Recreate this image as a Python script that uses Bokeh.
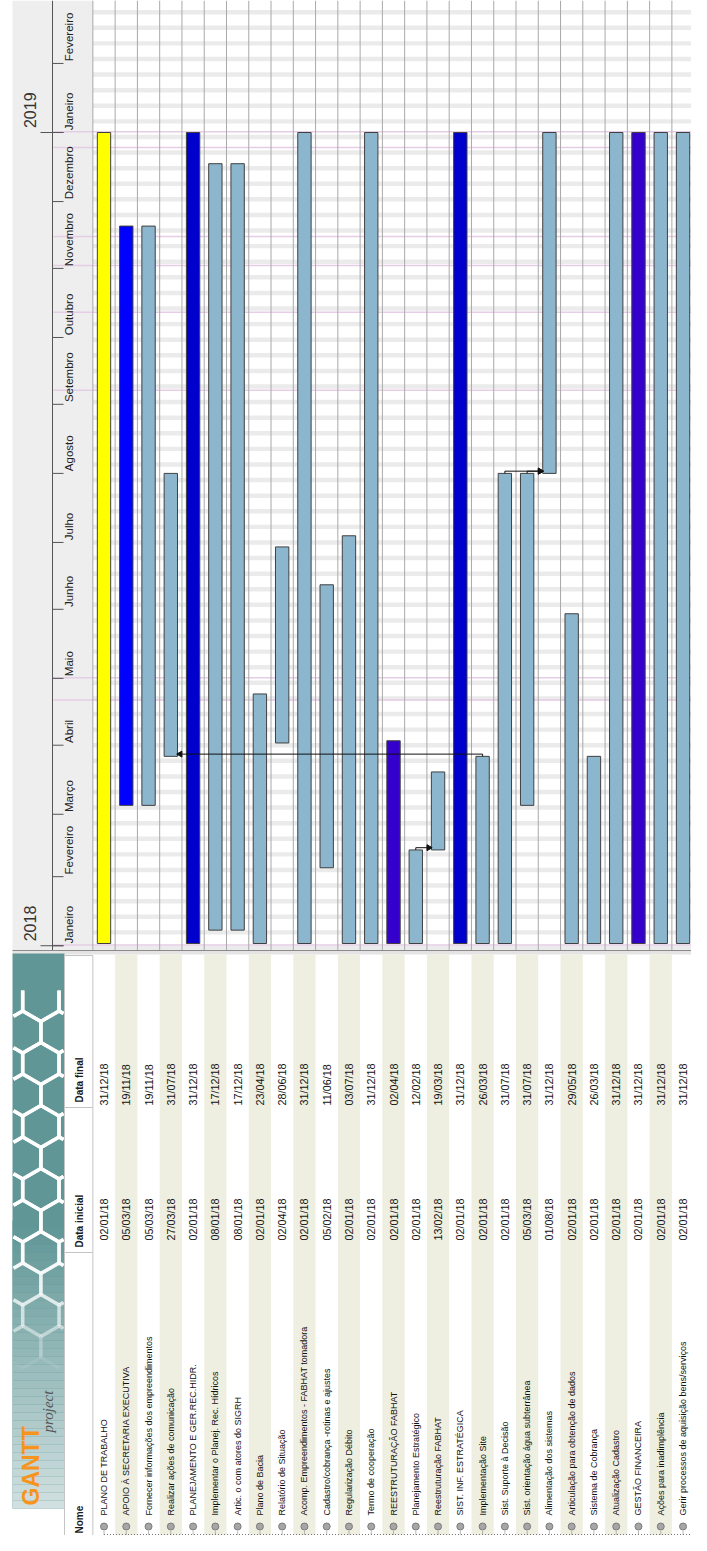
import datetime as dt
import numpy as np
from bokeh.plotting import figure
from bokeh.models import Range1d
from bokeh.core.properties import value
from bokeh.embed import file_html
from bokeh.resources import INLINE

# ---------------- data ----------------
task_names = [
    "PLANO DE TRABALHO",
    "APOIO À SECRETARIA EXECUTIVA",
    "Fornecer informações dos empreendimentos",
    "Realizar ações de comunicação",
    "PLANEJAMENTO E GER.REC.HIDR.",
    "Implementar o Planej. Rec. Hídricos",
    "Artic. o com atores do SIGRH",
    "Plano de Bacia",
    "Relatório de Situação",
    "Acomp. Empreendimentos - FABHAT tomadora",
    "Cadastro/cobrança -rotinas e ajustes",
    "Regularização Débito",
    "Termo de cooperação",
    "REESTRUTURAÇÃO FABHAT",
    "Planejamento Estratégico",
    "Reestruturação FABHAT",
    "SIST. INF. ESTRATÉGICA",
    "Implementação Site",
    "Sist. Suporte à Decisão",
    "Sist. orientação água subterrânea",
    "Alimentação dos sistemas",
    "Articulação para obtenção de dados",
    "Sistema de Cobrança",
    "Atualização Cadastro",
    "GESTÃO FINANCEIRA",
    "Ações para inadimplência",
    "Gerir processos de aquisição bens/serviços",
    "Prestação conta técnica/ adm.",
]
start_dates = [
    "02/01/18", "05/03/18", "05/03/18", "27/03/18", "02/01/18", "08/01/18", "08/01/18",
    "02/01/18", "02/04/18", "02/01/18", "05/02/18", "02/01/18", "02/01/18", "02/01/18",
    "02/01/18", "13/02/18", "02/01/18", "02/01/18", "02/01/18", "05/03/18", "01/08/18",
    "02/01/18", "02/01/18", "02/01/18", "02/01/18", "02/01/18", "02/01/18", "02/01/18",
]
end_dates = [
    "31/12/18", "19/11/18", "19/11/18", "31/07/18", "31/12/18", "17/12/18", "17/12/18",
    "23/04/18", "28/06/18", "31/12/18", "11/06/18", "03/07/18", "31/12/18", "02/04/18",
    "12/02/18", "19/03/18", "31/12/18", "26/03/18", "31/07/18", "31/07/18", "31/12/18",
    "29/05/18", "26/03/18", "31/12/18", "31/12/18", "31/12/18", "31/12/18", "31/12/18",
]
task_colors = [
    "#ffff00", "#0000ff", "#8cb6ce", "#8cb6ce", "#0000cc", "#8cb6ce", "#8cb6ce",
    "#8cb6ce", "#8cb6ce", "#8cb6ce", "#8cb6ce", "#8cb6ce", "#8cb6ce", "#3300cc",
    "#8cb6ce", "#8cb6ce", "#0000cc", "#8cb6ce", "#8cb6ce", "#8cb6ce", "#8cb6ce",
    "#8cb6ce", "#8cb6ce", "#8cb6ce", "#3300cc", "#8cb6ce", "#8cb6ce", "#8cb6ce",
]
dep_from = [14, 17, 18, 19]
dep_to = [15, 3, 20, 20]

month_names = ["Janeiro", "Fevereiro", "Março", "Abril", "Maio", "Junho", "Julho",
               "Agosto", "Setembro", "Outubro", "Novembro", "Dezembro", "Janeiro", "Fevereiro"]
month_starts = ["01/01/18", "01/02/18", "01/03/18", "01/04/18", "01/05/18", "01/06/18",
                "01/07/18", "01/08/18", "01/09/18", "01/10/18", "01/11/18", "01/12/18",
                "01/01/19", "01/02/19"]
year_labels = ["2018", "2019"]
year_starts = ["01/01/18", "01/01/19"]
holidays = ["01/01/18", "21/04/18", "01/05/18", "07/09/18", "12/10/18", "02/11/18",
            "15/11/18", "25/12/18", "01/01/19"]

header_labels = ["Nome", "Data inicial", "Data final"]

# ---------------- layout constants ----------------
W, H = 691, 1535
X0, PITCH = 92.37, 22.27           # reference px of row 0 left edge, row pitch
BASE = dt.datetime(2018, 1, 1)
Y_BASE_PX, PX_PER_DAY = 945.23, 2.228
DAY = dt.timedelta(days=1)

SANS = "'Liberation Sans', Arial, sans-serif"
SERIF = "'Liberation Serif', 'DejaVu Serif', serif"


def pdate(s):
    return dt.datetime.strptime(s, "%d/%m/%y")


def u_of(xpx):
    return (xpx - X0) / PITCH


def date_of(ypx):
    return BASE + dt.timedelta(days=(Y_BASE_PX - ypx) / PX_PER_DAY)


n = len(task_names)
idx = np.arange(n)
starts = [pdate(s) for s in start_dates]
ends_excl = [pdate(s) + DAY for s in end_dates]

p = figure(width=W, height=H,
           x_range=Range1d(u_of(0), u_of(W)),
           y_range=Range1d(date_of(H), date_of(0)),
           output_backend="svg", toolbar_location=None,
           x_axis_location=None, y_axis_location=None, min_border=0)
p.grid.visible = False
p.outline_line_color = None
p.background_fill_color = "white"
p.border_fill_color = "white"
p.extra_x_ranges = {"px": Range1d(0, W)}
p.extra_y_ranges = {"px": Range1d(H, 0)}
PX = dict(x_range_name="px", y_range_name="px")

# ---------------- timeline ----------------
CH_TOP, CH_BOT = 0, 950
p.quad(left=[12], right=[X0], top=[CH_TOP], bottom=[CH_BOT], fill_color="#eeeeee", line_color=None, **PX)

# weekend stripes
sat = dt.datetime(2017, 12, 30)
wk_b, wk_t = [], []
while sat < dt.datetime(2019, 3, 5):
    wk_b.append(sat)
    wk_t.append(sat + 2 * DAY)
    sat += 7 * DAY
p.quad(left=X0, right=W, bottom=wk_b, top=wk_t, fill_color="#ebebeb", line_color=None,
       x_range_name="px")

# holidays
hol = [pdate(h) + 0.3 * DAY for h in holidays]
p.segment(x0=52, x1=W, y0=hol, y1=hol, line_color="#e6cde6", line_width=1.5, x_range_name="px")

# row separators in chart
sep = np.arange(0, n + 1)
p.segment(x0=sep, x1=sep, y0=CH_TOP, y1=CH_BOT, line_color="#a9a9a9", line_width=1, y_range_name="px")

# header column lines & ticks
p.segment(x0=[52], x1=[52], y0=[CH_TOP], y1=[CH_BOT], line_color="#555555", line_width=1, **PX)
ms = [pdate(m) for m in month_starts]
ys = [pdate(y) for y in year_starts]
p.segment(x0=52, x1=63, y0=ms, y1=ms, line_color="#555555", line_width=1, x_range_name="px")
p.segment(x0=40, x1=63, y0=ys, y1=ys, line_color="#555555", line_width=1, x_range_name="px")
p.text(x=68, y=[m + 1.0 * DAY for m in ms], text=month_names, angle=np.pi / 2,
       text_align="left", text_baseline="middle", text_font=value(SANS),
       text_font_size="11.5px", text_color="#222222", x_range_name="px")
p.text(x=29, y=[y + 2.0 * DAY for y in ys], text=year_labels, angle=np.pi / 2,
       text_align="left", text_baseline="middle", text_font=value(SANS),
       text_font_size="16px", text_color="#333333", x_range_name="px")

# task bars
p.vbar(x=idx + 0.5, width=0.6, bottom=starts, top=ends_excl, fill_color=task_colors,
       line_color="#404040", line_width=1)

# dependencies
sx0, sx1, sy0, sy1, tx, ty, ta = [], [], [], [], [], [], []
for a, b in zip(dep_from, dep_to):
    ya = ends_excl[a]
    yl = ya + 1.0 * DAY
    sx0.append(a + 0.5); sx1.append(a + 0.5); sy0.append(ya); sy1.append(yl)
    if b > a:
        xe = b + 0.5 - 0.3
        tx.append(xe - 0.12); ta.append(-np.pi / 2)
    else:
        xe = b + 0.5 + 0.3
        tx.append(xe + 0.12); ta.append(np.pi / 2)
    ty.append(yl)
    sx0.append(a + 0.5); sx1.append(xe); sy0.append(yl); sy1.append(yl)
p.segment(x0=sx0, x1=sx1, y0=sy0, y1=sy1, line_color="#111111", line_width=1)
p.scatter(x=tx, y=ty, marker="triangle", size=6, angle=ta, fill_color="#111111", line_color="#111111")

# bottom strip of chart
p.quad(left=[12], right=[W], top=[950], bottom=[954], fill_color="#e4e4e4", line_color=None, **PX)
p.segment(x0=[12], x1=[W], y0=[950], y1=[950], line_color="#8a8a8a", line_width=1, **PX)

# ---------------- table ----------------
TB_TOP, TB_BOT = 954, H
odd = idx[idx % 2 == 1]
p.quad(left=odd, right=odd + 1, top=TB_TOP, bottom=TB_BOT, fill_color="#efefe1", line_color=None,
       y_range_name="px")

# logo box
LOGO_L, LOGO_R, LOGO_T, LOGO_B = 12, 64, 953, 1508
p.quad(left=[LOGO_L], right=[LOGO_R], top=[LOGO_T], bottom=[LOGO_B], fill_color="#609696",
       line_color=None, **PX)
c0 = np.array([96, 150, 150]); c1 = np.array([212, 226, 226])
gy = np.arange(1220, LOGO_B, 8)
gcols = []
for g in gy:
    t = (g - 1220) / (LOGO_B - 1220)
    c = (c0 + (c1 - c0) * t).astype(int)
    gcols.append("#%02x%02x%02x" % tuple(c))
p.quad(left=LOGO_L, right=LOGO_R, top=gy, bottom=np.minimum(gy + 8, LOGO_B), fill_color=gcols,
       line_color=None, **PX)


def clip(x0, y0, x1, y1, xmin, xmax, ymin, ymax):
    dx, dy = x1 - x0, y1 - y0
    t0, t1 = 0.0, 1.0
    for pp, q in ((-dx, x0 - xmin), (dx, xmax - x0), (-dy, y0 - ymin), (dy, ymax - y0)):
        if pp == 0:
            if q < 0:
                return None
        else:
            r = q / pp
            if pp < 0:
                t0 = max(t0, r)
            else:
                t1 = min(t1, r)
    if t0 > t1:
        return None
    return x0 + t0 * dx, y0 + t0 * dy, x0 + t1 * dx, y0 + t1 * dy


R = 21.0
hx0, hx1, hy0, hy1, ha = [], [], [], [], []
for col in range(-1, 4):
    for row in range(-1, 14):
        cx = 4 + col * R * np.sqrt(3) + (row % 2) * R * np.sqrt(3) / 2
        cy = 1000 + row * 1.5 * R
        ang = np.pi / 6 + np.arange(7) * np.pi / 3
        vx = cx + R * np.cos(ang); vy = cy + R * np.sin(ang)
        for k in range(6):
            cl = clip(vx[k], vy[k], vx[k + 1], vy[k + 1], LOGO_L + 1, LOGO_R - 1, 990, 1370)
            if cl:
                mid = (cl[1] + cl[3]) / 2
                alpha = 1.0 if mid < 1230 else max(0.0, 1 - (mid - 1230) / 140)
                hx0.append(cl[0]); hy0.append(cl[1]); hx1.append(cl[2]); hy1.append(cl[3]); ha.append(alpha)
p.segment(x0=hx0, y0=hy0, x1=hx1, y1=hy1, line_color="white", line_width=3.5, line_alpha=ha, **PX)
p.text(x=[30], y=[1505], text=["GANTT"], angle=np.pi / 2, text_align="left", text_baseline="middle",
       text_font=value(SANS), text_font_style="bold", text_font_size="23px", text_color="#f7941d", **PX)
p.text(x=[47], y=[1432], text=["project"], angle=np.pi / 2, text_align="left", text_baseline="middle",
       text_font=value(SERIF), text_font_style="italic", text_font_size="15px", text_color="#555555", **PX)

# header cells
HD_L, HD_R = 64, X0
cell_t = [1252, 1107, 955]
cell_b = [H, 1252, 1107]
p.quad(left=HD_L, right=HD_R, top=cell_t, bottom=cell_b, fill_color="white", line_color="#c4c4c4", **PX)
p.text(x=79, y=[1533, 1247, 1102], text=header_labels, angle=np.pi / 2, text_align="left",
       text_baseline="middle", text_font=value(SANS), text_font_style="bold", text_font_size="10px",
       text_color="#1a1a1a", **PX)

# tree lines and bullets
p.segment(x0=idx + 0.5, x1=idx + 0.5, y0=1531, y1=1534, line_color="#777777", line_dash="1 1",
          line_width=1, y_range_name="px")
p.segment(x0=[0.5], x1=[n + 1], y0=[1534], y1=[1534], line_color="#777777", line_dash="1 2",
          line_width=1, y_range_name="px")
p.scatter(x=idx + 0.5, y=1526, marker="circle", size=7, fill_color="#a6a6a6", line_color="#7c7c7c",
          y_range_name="px")

# texts
p.text(x=idx + 0.5, y=1515, text=task_names, angle=np.pi / 2, text_align="left", text_baseline="middle",
       text_font=value(SANS), text_font_size="9px", text_color="#111111", y_range_name="px")
p.text(x=idx + 0.5, y=1240, text=start_dates, angle=np.pi / 2, text_align="left", text_baseline="middle",
       text_font=value(SANS), text_font_size="10.8px", text_color="#111111", y_range_name="px")
p.text(x=idx + 0.5, y=1105, text=end_dates, angle=np.pi / 2, text_align="left", text_baseline="middle",
       text_font=value(SANS), text_font_size="10.8px", text_color="#111111", y_range_name="px")

open("out.html", "w").write(file_html(p, INLINE))
